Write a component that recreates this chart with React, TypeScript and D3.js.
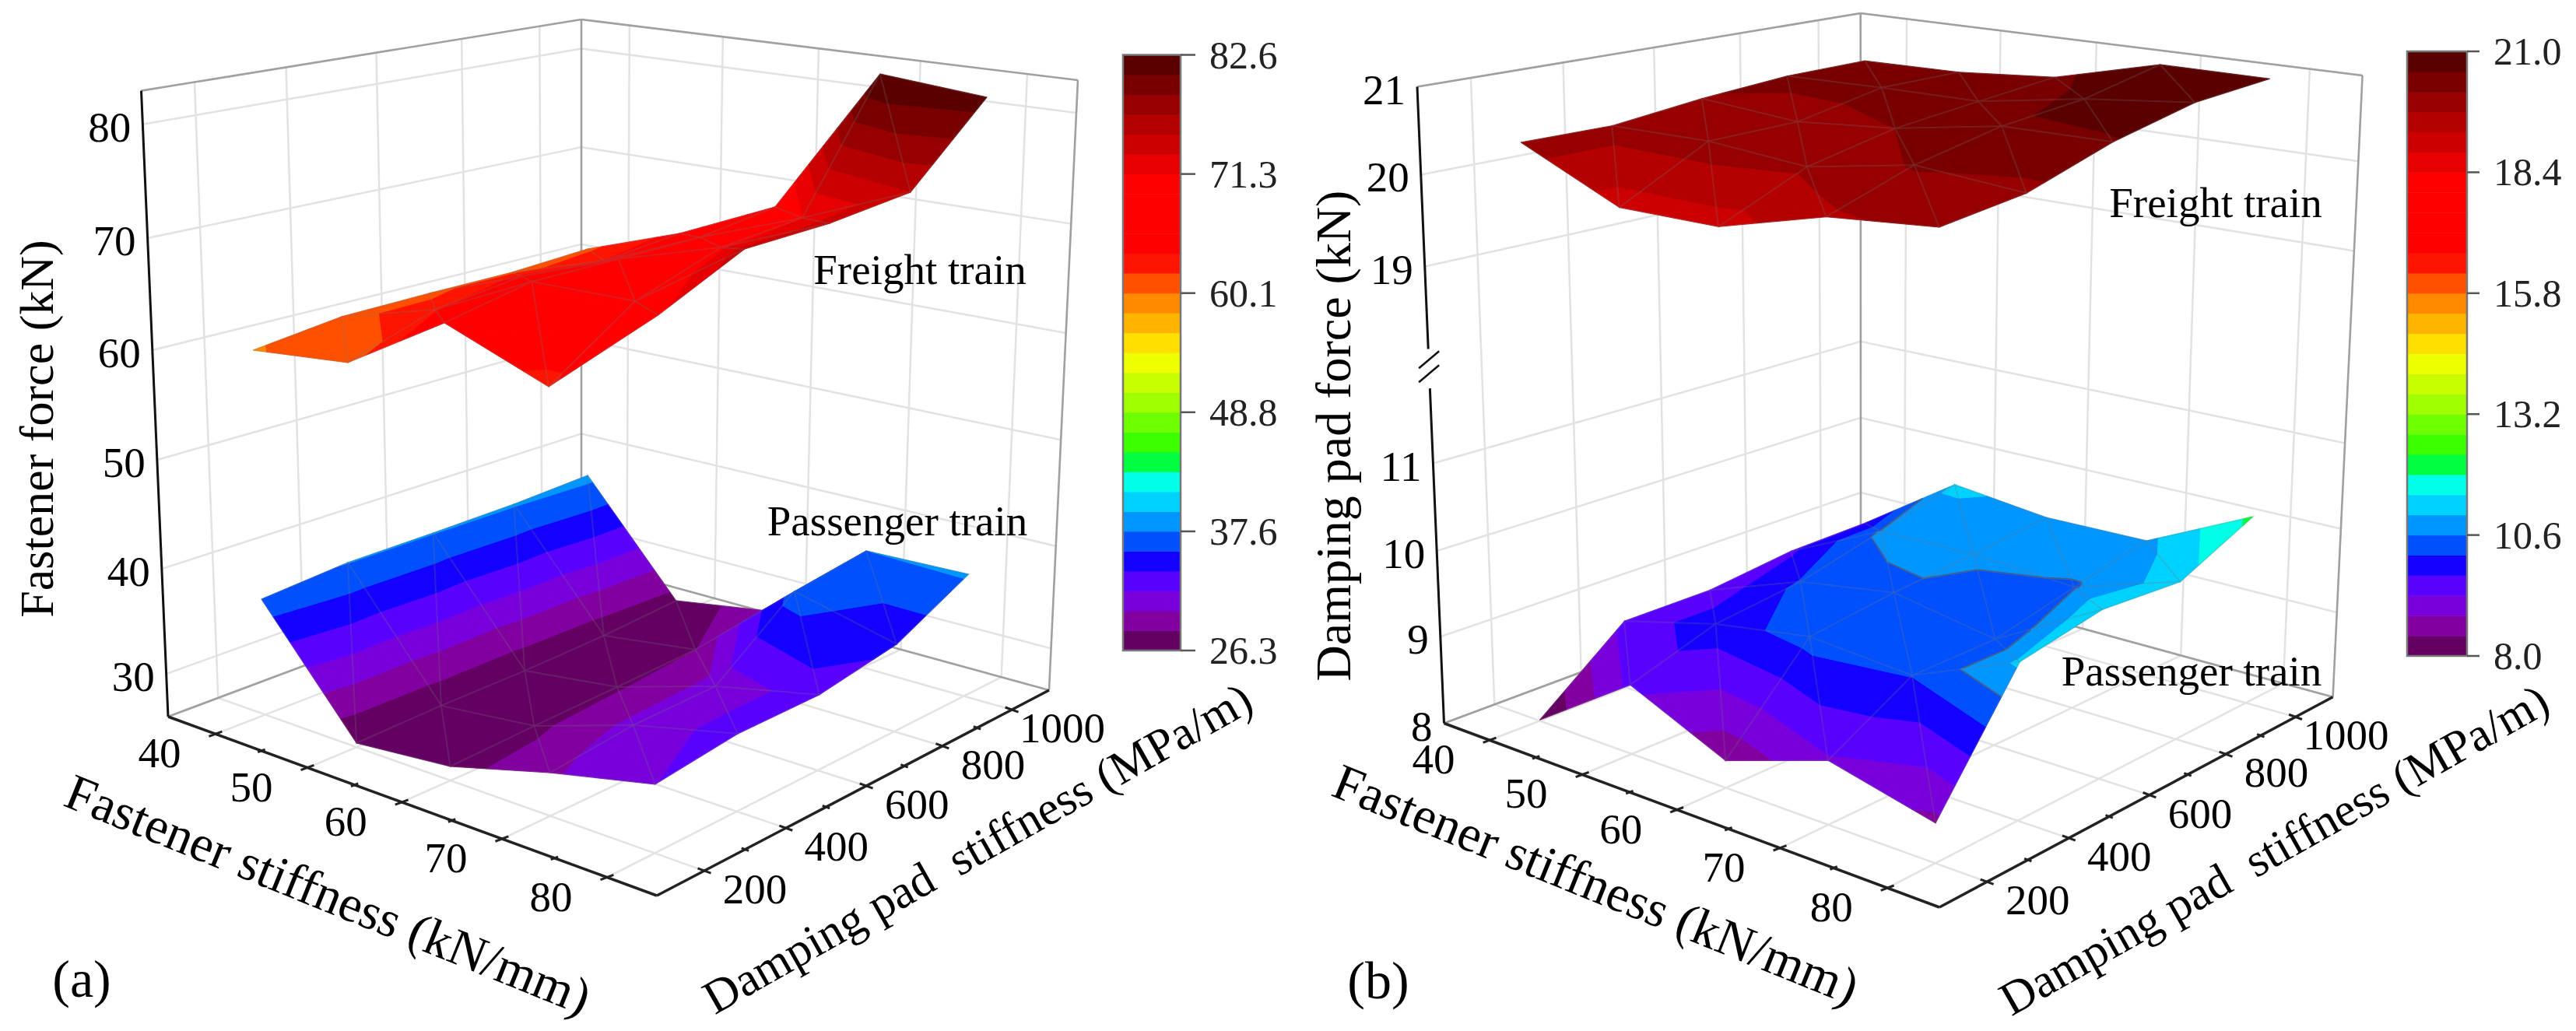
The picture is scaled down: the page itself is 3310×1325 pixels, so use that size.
import React from "react";
import * as d3 from "d3";

type P = [number, number];

// ---------- data ----------
const fastenerValues = [40, 50, 60, 70, 80];
const padValues = [200, 400, 600, 800, 1000];
const fastenerMinor = [45, 55, 65, 75];
const padMinor = [300, 500, 700, 900];
const fastenerDomain = [35, 40, 50, 60, 70, 80, 85];
const padDomain = [100, 200, 400, 600, 800, 1000, 1100];

// rows: fastener stiffness, columns: damping pad stiffness
const fastenerPassenger = [
  [36.96, 37.61, 37.64, 37.75, 38.12],
  [26.37, 26.59, 26.63, 26.87, 27.41],
  [27.26, 27.59, 27.85, 28.16, 28.94],
  [29.77, 30.62, 30.77, 36.56, 37.55],
  [31.88, 32.85, 32.87, 34.19, 37.78],
];
const fastenerFreight = [
  [59.94, 60.92, 61.02, 61.02, 61.44],
  [60.92, 63.5, 64.47, 63.9, 64.64],
  [66.35, 67.86, 67.8, 67.79, 68.78],
  [63.02, 68.05, 70.6, 71.22, 82.63],
  [70.92, 74.24, 74.36, 75.07, 81.77],
];
const padPassenger = [
  [8.01, 8.79, 8.79, 8.91, 8.93],
  [8.78, 9.1, 9.22, 9.47, 9.72],
  [8.3, 9.29, 9.41, 9.49, 9.59],
  [8.69, 9.21, 9.21, 9.42, 9.61],
  [8.42, 9.72, 9.89, 9.81, 10.2],
];
const padFreight = [
  [20.36, 20.35, 20.47, 20.55, 20.56],
  [19.85, 20.37, 20.38, 20.58, 20.58],
  [19.86, 20.28, 20.49, 20.59, 20.68],
  [20.19, 20.51, 20.71, 20.8, 21.0],
  [20.31, 20.42, 20.73, 20.94, 21.0],
];

const forceTicksA = [30, 40, 50, 60, 70, 80];
const forceTicksB = [8, 9, 10, 11, 19, 20, 21];
const colorLabelsA = ["26.3", "37.6", "48.8", "60.1", "71.3", "82.6"];
const colorLabelsB = ["8.0", "10.6", "13.2", "15.8", "18.4", "21.0"];

// colour bands, lowest first
const bandColors = [
  "#640064", "#8200a0", "#7800dc", "#5a00ff", "#1400ff", "#0050ff", "#0096ff", "#00d2ff", "#00ffe6", "#00ff40",
  "#3cff00", "#6eff00", "#a0ff00", "#c8ff00", "#f0ff00", "#ffde00", "#ffb400", "#ff8a00", "#ff5000", "#ff1400",
  "#ff0000", "#ff0000", "#ff0000", "#ff0000", "#e60000", "#cc0000", "#b40000", "#960000", "#780000", "#5a0000",
];

// ---------- panels ----------
const panelA = {
  L: [216, 921] as P, F: [844, 1151] as P, B: [747, 722] as P, R: [1348, 887] as P,
  LT: [181.5, 116.6] as P, FT: [850, 240] as P, BT: [747, 25] as P, RT: [1385, 103] as P,
  uRange: [0, 0.097, 0.285, 0.478, 0.683, 0.898, 1],
  vRange: [0, 0.121, 0.329, 0.534, 0.728, 0.905, 1],
  zDomain: [26, 30, 40, 50, 60, 70, 80, 83],
  zRange: [0, 0.0684, 0.2362, 0.4103, 0.5855, 0.7645, 0.9463, 1],
  zTicks: forceTicksA,
  cMin: 26.3, cMax: 82.6,
  cDomain: [26.3, 82.6], cRange: [26.3, 82.6],
  surfaces: [fastenerPassenger, fastenerFreight],
  contour: [] as number[],
  bar: { x0: 1443, x1: 1517, y0: 70.5, y1: 836, tick: 1536, label: 1554 },
  labels: colorLabelsA,
  zTitle: "Fastener force (kN)", zTitlePos: [47, 551] as P, zTitleSize: 62,
  uTitle: [422, 1149] as P, vTitle: [1256, 1090] as P,
  tag: "(a)", tagPos: [105, 1281] as P,
  freight: [1182, 365] as P, passenger: [1153, 688] as P,
  brk: false,
};
const panelB = {
  L: [1855.5, 929.5] as P, F: [2492, 1166] as P, B: [2391, 730] as P, R: [2997.6, 895.7] as P,
  LT: [1821, 111.5] as P, FT: [2498, 235] as P, BT: [2390.7, 17] as P, RT: [3035.6, 97] as P,
  uRange: [0, 0.092, 0.279, 0.47, 0.678, 0.895, 1],
  vRange: [0, 0.121, 0.329, 0.534, 0.728, 0.905, 1],
  zDomain: [8, 9, 10, 11, 12, 18, 19, 20, 21],
  zRange: [0, 0.136, 0.2708, 0.4083, 0.547, 0.5736, 0.7176, 0.8619, 1],
  zTicks: forceTicksB,
  cMin: 8, cMax: 21,
  cDomain: [8, 9.44, 10.2, 19.85, 21], cRange: [8, 10.6, 12, 19.05, 21],
  surfaces: [padPassenger, padFreight],
  contour: [10.6],
  bar: { x0: 3093, x1: 3170, y0: 66, y1: 843, tick: 3186, label: 3204 },
  labels: colorLabelsB,
  zTitle: "Damping pad force (kN)", zTitlePos: [1713, 560] as P, zTitleSize: 64,
  uTitle: [2051, 1136] as P, vTitle: [2922, 1092] as P,
  tag: "(b)", tagPos: [1771, 1283] as P,
  freight: [2847, 279] as P, passenger: [2816, 881] as P,
  brk: true,
};
type Panel = typeof panelA;

const lerp = (a: number, b: number, t: number) => a + (b - a) * t;
const lerpP = (a: P, b: P, t: number): P => [lerp(a[0], b[0], t), lerp(a[1], b[1], t)];
const serif = "'Liberation Serif','Times New Roman',serif";
const pathOf = d3.line<P>().x(d => d[0]).y(d => d[1]);
const gridColor = "#e2e2e2";
const edgeColor = "#a0a0a0";

type V = { p: P; c: number };
function clipAbove(poly: V[], lvl: number, keepAbove: boolean): V[] {
  const out: V[] = [];
  const inside = (v: V) => (keepAbove ? v.c >= lvl : v.c <= lvl);
  poly.forEach((a, i) => {
    const b = poly[(i + 1) % poly.length];
    if (inside(a)) out.push(a);
    if (inside(a) !== inside(b)) {
      const t = (lvl - a.c) / (b.c - a.c);
      out.push({ p: lerpP(a.p, b.p, t), c: lvl });
    }
  });
  return out;
}

function PanelView({ d }: { d: Panel }) {
  const su = d3.scaleLinear().domain(fastenerDomain).range(d.uRange);
  const sv = d3.scaleLinear().domain(padDomain).range(d.vRange);
  const sz = d3.scaleLinear().domain(d.zDomain).range(d.zRange);
  const sc = d3.scaleLinear().domain(d.cDomain).range(d.cRange).clamp(true);
  const uLo = fastenerDomain[0], uHi = fastenerDomain[fastenerDomain.length - 1];
  const vLo = padDomain[0], vHi = padDomain[padDomain.length - 1];
  const zLo = d.zDomain[0], zHi = d.zDomain[d.zDomain.length - 1];
  const proj = (u: number, v: number, z: number): P => {
    const s = su(u), t = sv(v), w = sz(z);
    const fl = lerpP(lerpP(d.L, d.F, s), lerpP(d.B, d.R, s), t);
    const tp = lerpP(lerpP(d.LT, d.FT, s), lerpP(d.BT, d.RT, s), t);
    return lerpP(fl, tp, w);
  };
  const levels = d3.range(31).map(i => d.cMin + ((d.cMax - d.cMin) * i) / 30);

  const grid: [P, P][] = [];
  d.zTicks.forEach(z => {
    grid.push([proj(uLo, vLo, z), proj(uLo, vHi, z)]);
    grid.push([proj(uLo, vHi, z), proj(uHi, vHi, z)]);
  });
  padValues.forEach(v => {
    grid.push([proj(uLo, v, zLo), proj(uLo, v, zHi)]);
    grid.push([proj(uLo, v, zLo), proj(uHi, v, zLo)]);
  });
  fastenerValues.forEach(u => {
    grid.push([proj(u, vHi, zLo), proj(u, vHi, zHi)]);
    grid.push([proj(u, vLo, zLo), proj(u, vHi, zLo)]);
  });

  const edges: [P, P][] = [
    [d.LT, d.BT], [d.BT, d.RT], [d.RT, d.R], [d.BT, d.B], [d.B, d.L], [d.B, d.R],
  ];

  const surfaceMarks = d.surfaces.map((vals, k) => {
    const nodes = vals.map((row, i) =>
      row.map((z, j): V => ({ p: proj(fastenerValues[i], padValues[j], z), c: sc(z) })));
    const tris: V[][] = [];
    for (let i = 0; i < 4; i++) {
      for (let j = 3; j >= 0; j--) {
        tris.push([nodes[i][j], nodes[i][j + 1], nodes[i + 1][j]]);
        tris.push([nodes[i + 1][j + 1], nodes[i][j + 1], nodes[i + 1][j]]);
      }
    }
    return (
      <g key={k}>
        {tris.map((tri, ti) => (
          <g key={ti}>
            {bandColors.map((col, bi) => {
              let poly = clipAbove(tri, levels[bi], true);
              if (poly.length) poly = clipAbove(poly, levels[bi + 1], false);
              if (poly.length < 3) return null;
              return (
                <path key={bi} d={pathOf(poly.map(v => v.p))! + "Z"} fill={col} stroke={col} strokeWidth={1} strokeLinejoin="round" />
              );
            })}
            {d.contour.map(lvl => {
              const pts: P[] = [];
              tri.forEach((a, i) => {
                const b = tri[(i + 1) % 3];
                if ((a.c - lvl) * (b.c - lvl) < 0) pts.push(lerpP(a.p, b.p, (lvl - a.c) / (b.c - a.c)));
              });
              return pts.length === 2 && k === 0 ? (
                <path key={lvl} d={pathOf(pts)!} stroke="#3f5f98" strokeWidth={2} fill="none" />
              ) : null;
            })}
            <path d={pathOf(tri.map(v => v.p))! + "Z"} fill="none" stroke="#777" strokeOpacity={0.2} strokeWidth={2} />
          </g>
        ))}
      </g>
    );
  });

  // axes
  const uDir: P = [d.B[0] - d.L[0], d.B[1] - d.L[1]];
  const vDir: P = [d.L[0] - d.F[0], d.L[1] - d.F[1]];
  const unit = (a: P): P => { const n = Math.hypot(a[0], a[1]); return [a[0] / n, a[1] / n]; };
  const uOut = unit(uDir), vOut = unit(vDir);
  const tickLine = (p: P, dir: P, len: number): [P, P] => [
    [p[0] - dir[0] * len, p[1] - dir[1] * len], [p[0] + dir[0] * len, p[1] + dir[1] * len],
  ];
  const axisLines: [P, P, number][] = [
    [d.L, d.F, 3.5], [d.F, d.R, 3.5],
  ];
  fastenerValues.forEach(u => { const [a, b] = tickLine(proj(u, vLo, zLo), uOut, 9); axisLines.push([a, b, 3]); });
  fastenerMinor.forEach(u => { const [a, b] = tickLine(proj(u, vLo, zLo), uOut, 5); axisLines.push([a, b, 3]); });
  padValues.forEach(v => { const [a, b] = tickLine(proj(uHi, v, zLo), vOut, 9); axisLines.push([a, b, 3]); });
  padMinor.forEach(v => { const [a, b] = tickLine(proj(uHi, v, zLo), vOut, 5); axisLines.push([a, b, 3]); });

  const zAxis: [P, P][] = d.brk
    ? [[proj(uLo, vLo, zLo), proj(uLo, vLo, 11.85)], [proj(uLo, vLo, 18.1), proj(uLo, vLo, zHi)]]
    : [[proj(uLo, vLo, zLo), proj(uLo, vLo, zHi)]];

  const barY = d3.scaleLinear().domain([0, 30]).range([d.bar.y1, d.bar.y0]);
  const labelY = d3.scaleLinear().domain([0, 5]).range([d.bar.y1, d.bar.y0]);
  const txt = { fontFamily: serif, fill: "#000" } as const;

  const brkAt = proj(uLo, vLo, 15);

  return (
    <g>
      {grid.map((g, i) => (
        <path key={i} d={pathOf(g)!} stroke={gridColor} strokeWidth={2.5} fill="none" />
      ))}
      {edges.map((g, i) => (
        <path key={i} d={pathOf(g)!} stroke={edgeColor} strokeWidth={2.6} fill="none" />
      ))}
      {surfaceMarks}
      {zAxis.map((g, i) => (
        <path key={i} d={pathOf(g)!} stroke="#111" strokeWidth={3} fill="none" />
      ))}
      {d.brk && [-9, 9].map(o => (
        <path key={o} d={`M${brkAt[0] - 13},${brkAt[1] + o + 11}L${brkAt[0] + 13},${brkAt[1] + o - 11}`} stroke="#111" strokeWidth={2.5} fill="none" />
      ))}
      {axisLines.map((g, i) => (
        <path key={i} d={pathOf([g[0], g[1]])!} stroke="#222" strokeWidth={g[2]} fill="none" />
      ))}

      {/* force ticks */}
      {d.zTicks.map(z => {
        const p = proj(uLo, vLo, z);
        return <text key={z} x={p[0] - 15} y={p[1] + 22} fontSize={55} textAnchor="end" {...txt}>{z}</text>;
      })}
      {fastenerValues.map(u => {
        const p = proj(u, vLo, zLo);
        return <text key={u} x={p[0] - 72} y={p[1] + 43} fontSize={55} textAnchor="middle" {...txt}>{u}</text>;
      })}
      {padValues.map(v => {
        const p = proj(uHi, v, zLo);
        return <text key={v} x={p[0] + 65} y={p[1] + 42} fontSize={55} textAnchor="middle" {...txt}>{v}</text>;
      })}

      {/* titles */}
      <text transform={`translate(${d.zTitlePos[0]},${d.zTitlePos[1]}) rotate(-90)`} fontSize={d.zTitleSize} textAnchor="middle" dominantBaseline="central" {...txt}>{d.zTitle}</text>
      <text transform={`translate(${d.uTitle[0]},${d.uTitle[1]}) rotate(22)`} fontSize={66} textAnchor="middle" dominantBaseline="central" {...txt}>Fastener stiffness (kN/mm)</text>
      <text transform={`translate(${d.vTitle[0]},${d.vTitle[1]}) rotate(-29.5)`} fontSize={61} textAnchor="middle" dominantBaseline="central" style={{ whiteSpace: "pre" }} {...txt}>{"Damping pad  stiffness (MPa/m)"}</text>
      <text x={d.tagPos[0]} y={d.tagPos[1]} fontSize={68} textAnchor="middle" {...txt}>{d.tag}</text>
      <text x={d.freight[0]} y={d.freight[1]} fontSize={55} textAnchor="middle" {...txt}>Freight train</text>
      <text x={d.passenger[0]} y={d.passenger[1]} fontSize={55} textAnchor="middle" {...txt}>Passenger train</text>

      {/* colour bar */}
      {bandColors.map((c, i) => (
        <rect key={i} x={d.bar.x0} width={d.bar.x1 - d.bar.x0} y={barY(i + 1)} height={barY(i) - barY(i + 1) + 0.5} fill={c} />
      ))}
      <rect x={d.bar.x0} y={d.bar.y0} width={d.bar.x1 - d.bar.x0} height={d.bar.y1 - d.bar.y0} fill="none" stroke="#777" strokeWidth={2.5} />
      {d.labels.map((l, i) => (
        <g key={l}>
          <path d={`M${d.bar.x1},${labelY(i)}H${d.bar.tick}`} stroke="#555" strokeWidth={2.5} />
          <text x={d.bar.label} y={labelY(i) + 17} fontSize={50} fill="#222" fontFamily={serif}>{l}</text>
        </g>
      ))}
    </g>
  );
}

export default function App() {
  return (
    <svg width={3310} height={1325} viewBox="0 0 3310 1325" style={{ position: "absolute", left: 0, top: 0, background: "#fff" }}>
      <PanelView d={panelA} />
      <PanelView d={panelB as unknown as Panel} />
    </svg>
  );
}
